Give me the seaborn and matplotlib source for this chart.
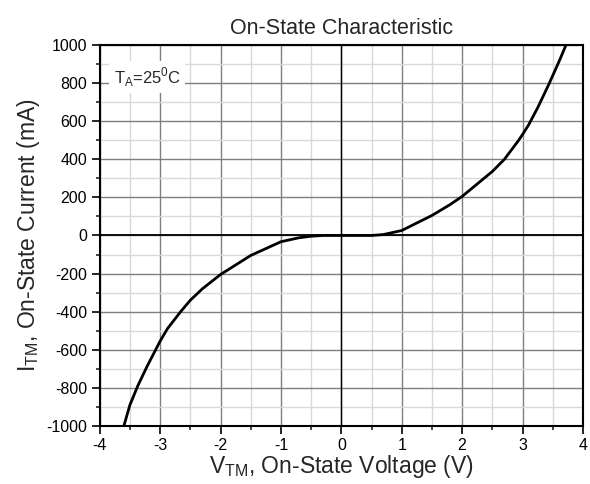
import matplotlib
matplotlib.use("Agg")
import matplotlib.pyplot as plt
from matplotlib.ticker import MultipleLocator
import numpy as np
import pandas as pd
import seaborn as sns

# values
voltage = [-3.6, -3.5, -3.37, -3.22, -3.09, -3.0, -2.88, -2.66, -2.5, -2.3, -2.0,
           -1.5, -1.0, -0.7, -0.5, -0.3, 0.0, 0.3, 0.5, 0.7, 1.0, 1.5,
           1.79, 2.0, 2.5, 2.7, 2.93, 3.0, 3.1, 3.25, 3.43, 3.6, 3.72]
current = [-1000, -890, -790, -690, -610, -555, -490, -400, -340, -280, -205,
           -105, -33, -12, -4, 0, 0, 0, 0, 5, 26, 105,
           160, 205, 336, 400, 497, 530, 580, 670, 790, 910, 1000]

x_ticks = [-4, -3, -2, -1, 0, 1, 2, 3, 4]
y_ticks = [-1000, -800, -600, -400, -200, 0, 200, 400, 600, 800, 1000]

df = pd.DataFrame({"V": voltage, "I": current})

sns.set_style("ticks")
plt.rcParams['font.family'] = ['Liberation Sans', 'DejaVu Sans']
plt.rcParams['mathtext.fontset'] = 'custom'
plt.rcParams['mathtext.rm'] = 'Liberation Sans'
plt.rcParams['axes.unicode_minus'] = False

fig = plt.figure(figsize=(5.9, 4.84), dpi=100)
ax = fig.add_axes([0.169, 0.120, 0.819, 0.787])

ax.xaxis.set_minor_locator(MultipleLocator(0.5))
ax.yaxis.set_minor_locator(MultipleLocator(100))
ax.grid(which='minor', color='#d9d9d9', linewidth=1.0)
ax.grid(which='major', color='#7f7f7f', linewidth=1.0)
ax.set_axisbelow(True)

ax.axhline(0, color='black', linewidth=1.3, zorder=2)
ax.axvline(0, color='black', linewidth=1.0, zorder=2)

sns.lineplot(data=df, x="V", y="I", ax=ax, color='black', linewidth=2.0, sort=True,
             estimator=None, zorder=3)

ax.set_xlim(-4, 4)
ax.set_ylim(-1000, 1000)
ax.set_xticks(x_ticks)
ax.set_yticks(y_ticks)
ax.tick_params(which='major', direction='out', length=6, width=1.2, pad=3,
               labelsize=11.5, colors='black')
ax.tick_params(which='minor', direction='out', length=3, width=1.2)
for s in ax.spines.values():
    s.set_linewidth(1.5)
    s.set_color('black')

ax.set_xlabel(r"V$_\mathregular{TM}$, On-State Voltage (V)", fontsize=16.5, labelpad=0)
ax.set_ylabel(r"I$_\mathregular{TM}$, On-State Current (mA)", fontsize=16.5, labelpad=3)
ax.set_title("On-State Characteristic", fontsize=15.5, pad=8)

ax.text(-3.77, 830, r"T$_\mathregular{A}$=25$^\mathregular{0}$C", fontsize=12,
        ha='left', va='center', zorder=4,
        bbox=dict(facecolor='white', edgecolor='none', pad=3))

fig.savefig("out.png", dpi=100)
